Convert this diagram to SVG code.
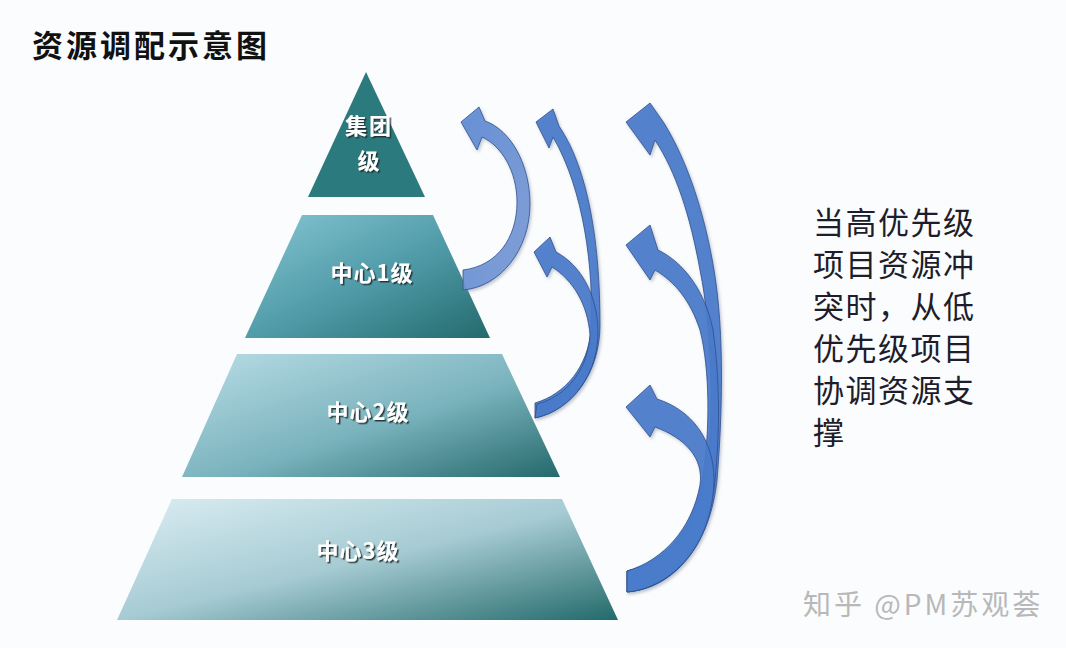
<svg xmlns="http://www.w3.org/2000/svg" width="1066" height="648" viewBox="0 0 1066 648">
<defs>
<linearGradient id="g1" x1="0" y1="0" x2="1" y2="1"><stop offset="0" stop-color="#86c6d4"/><stop offset="0.55" stop-color="#4d98a5"/><stop offset="1" stop-color="#236a6c"/></linearGradient>
<linearGradient id="g2" x1="0" y1="0" x2="1" y2="1"><stop offset="0" stop-color="#b9dde6"/><stop offset="0.55" stop-color="#7ab3bd"/><stop offset="1" stop-color="#24696b"/></linearGradient>
<linearGradient id="g3" x1="0" y1="0" x2="1" y2="1"><stop offset="0" stop-color="#dbedf3"/><stop offset="0.5" stop-color="#a6cbd3"/><stop offset="1" stop-color="#236a6b"/></linearGradient>
<linearGradient id="ga" x1="0" y1="0" x2="1" y2="1"><stop offset="0" stop-color="#5d8bd4"/><stop offset="1" stop-color="#7d9bd6"/></linearGradient>
<filter id="sh" x="-10%" y="-10%" width="130%" height="130%"><feDropShadow dx="1.5" dy="2" stdDeviation="1.5" flood-color="#6b7f99" flood-opacity="0.45"/></filter>
<filter id="ts" x="-10%" y="-20%" width="130%" height="150%"><feDropShadow dx="1.5" dy="1.5" stdDeviation="0.6" flood-color="#1c2f33" flood-opacity="0.9"/></filter>
</defs>
<style>
.title{font-family:"Noto Sans CJK SC","Noto Sans",sans-serif;font-weight:700;font-size:31px;letter-spacing:3px;fill:#111}
.lbl{font-family:"Noto Sans CJK SC","Noto Sans",sans-serif;font-weight:700;font-size:22px;letter-spacing:1px;fill:#ffffff;text-anchor:middle}
.note{font-family:"Noto Sans CJK SC","Noto Sans",sans-serif;font-weight:400;font-size:31px;letter-spacing:1.5px;fill:#1d1d2b}
.wm{font-family:"Noto Sans CJK SC","Noto Sans",sans-serif;font-size:28px;letter-spacing:3px;fill:#b8b8b8}
.arr{fill:#4a7bcb;stroke:#2d4f8c;stroke-width:0.8;stroke-linejoin:round;fill-opacity:0.92}
</style>
<rect width="1066" height="648" fill="#fbfcfd"/>
<text class="title" x="32" y="57">资源调配示意图</text>

<g id="tier0">
<polygon points="366,72 308,197 425,197" fill="#2b7a7d"/>
<text class="lbl" x="369" y="134" font-size="24" style="letter-spacing:2px" filter="url(#ts)">集团</text>
<text class="lbl" x="369" y="169" font-size="24" filter="url(#ts)">级</text>
</g>
<g id="tier1">
<polygon points="302,215 433,215 490,338 245,338" fill="url(#g1)"/>
<text class="lbl" x="372" y="281" filter="url(#ts)">中心1级</text>
</g>
<g id="tier2">
<polygon points="237,354 502,354 560,477 182,477" fill="url(#g2)"/>
<text class="lbl" x="368" y="420" filter="url(#ts)">中心2级</text>
</g>
<g id="tier3">
<polygon points="172,499 562,499 618,620 117,620" fill="url(#g3)"/>
<text class="lbl" x="358" y="559" filter="url(#ts)">中心3级</text>
</g>

<g id="connectors" filter="url(#sh)">
<path class="arr" style="fill:url(#ga)" d="M 463,270 C 497,266 517,238 517,202 C 517,172 502,146 482,137 L 477,150 L 461,122 L 479,107 L 485,121 C 511,130 530,165 530,204 C 530,250 500,287 463,290 Z"/>
<path class="arr" d="M 535,403 C 566,394 588,366 591,330 C 594,270 584,190 553,137 L 549,148 L 536,122 L 553,109 L 559,126 C 589,170 600,245 600,325 C 600,372 573,410 535,418 Z"/>
<path class="arr" d="M 537,404 C 568,396 588,368 590,335 C 588,305 573,280 552,267 L 547,277 L 534,252 L 550,237 L 556,252 C 581,265 597,295 598,330 C 599,372 573,410 535,418 Z"/>
<path class="arr" d="M 627,571 C 668,562 698,528 707,470 C 714,410 712,330 700,270 C 690,215 676,172 655,140 L 650,155 L 626,122 L 650,103 L 664,123 C 688,162 705,215 714,270 C 725,335 722,420 717,480 C 710,545 675,588 627,592 Z"/>
<path class="arr" d="M 627,571 C 666,562 694,530 703,475 C 710,430 710,370 700,330 C 690,300 675,282 655,270 L 650,280 L 626,245 L 650,225 L 658,250 C 683,262 705,290 713,330 C 720,380 720,430 715,480 C 708,545 675,588 627,592 Z"/>
<path class="arr" d="M 627,571 C 664,560 692,528 700,485 C 704,458 685,438 655,427 L 650,437 L 626,407 L 650,385 L 657,399 C 692,410 714,440 714,480 C 713,545 672,588 627,592 Z"/>
</g>

<g id="note">
<text class="note" x="813" y="234">当高优先级</text>
<text class="note" x="813" y="276">项目资源冲</text>
<text class="note" x="813" y="318">突时，从低</text>
<text class="note" x="813" y="360">优先级项目</text>
<text class="note" x="813" y="402">协调资源支</text>
<text class="note" x="813" y="444">撑</text>
</g>
<text class="wm" x="803" y="615">知乎 @PM苏观荟</text>
</svg>
